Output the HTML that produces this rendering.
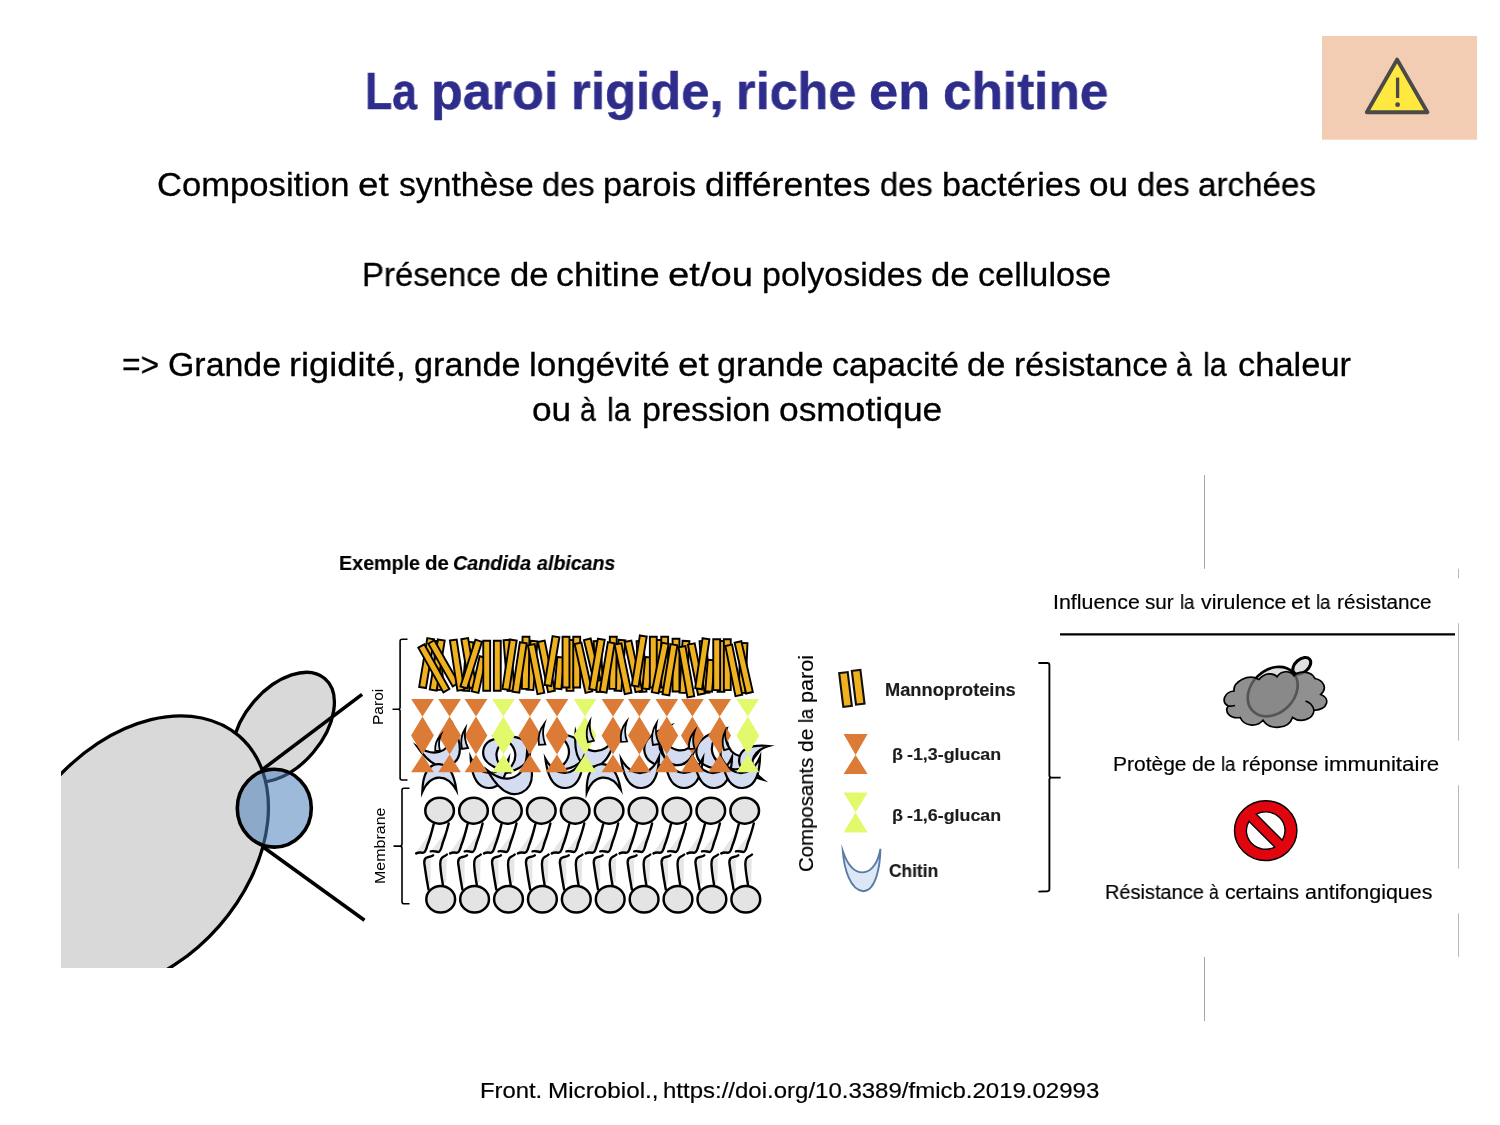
<!DOCTYPE html>
<html lang="fr"><head><meta charset="utf-8"><title>La paroi rigide, riche en chitine</title>
<style>
html,body{margin:0;padding:0;background:#fff}
#slide{position:relative;width:1500px;height:1125px;overflow:hidden;background:#fff;font-family:"Liberation Sans",sans-serif}
.ln{-webkit-text-stroke:0.009em currentColor;position:absolute;white-space:nowrap;line-height:1;margin:0;padding:0;height:1em;font-weight:normal;color:#000;font-family:"Liberation Sans",sans-serif}
.ln span{position:absolute;top:0;transform-origin:0 0;display:block;will-change:transform;-webkit-text-stroke:inherit}
#art{position:absolute;left:0;top:0}
</style></head><body>
<div id="slide">
<h1 class="ln" id="title" style="left:0;top:65.16px;font-size:52.38px;font-weight:bold;color:#2e2d8c;"><span style="left:364.71px;transform:scaleX(0.8500);">La</span> <span style="left:431.33px;transform:scaleX(0.9943);">paroi</span> <span style="left:570.75px;transform:scaleX(0.9712);">rigide,</span> <span style="left:736.29px;transform:scaleX(0.9617);">riche</span> <span style="left:868.99px;transform:scaleX(0.9931);">en</span> <span style="left:942.68px;transform:scaleX(0.9792);">chitine</span></h1>
<p class="ln" id="l1" style="left:0;top:168.19px;font-size:33.68px;"><span style="left:157.08px;transform:scaleX(1.0283);">Composition</span> <span style="left:358.49px;transform:scaleX(1.0936);">et</span> <span style="left:398.71px;transform:scaleX(0.9999);">synthèse</span> <span style="left:541.82px;transform:scaleX(0.9674);">des</span> <span style="left:603.18px;transform:scaleX(1.0156);">parois</span> <span style="left:704.98px;transform:scaleX(1.0564);">différentes</span> <span style="left:880.17px;transform:scaleX(0.9674);">des</span> <span style="left:941.52px;transform:scaleX(1.0169);">bactéries</span> <span style="left:1089.14px;transform:scaleX(1.0447);">ou</span> <span style="left:1137.04px;transform:scaleX(0.9674);">des</span> <span style="left:1198.33px;transform:scaleX(0.9840);">archées</span></p>
<p class="ln" id="l2" style="left:0;top:258.19px;font-size:33.68px;"><span style="left:362.23px;transform:scaleX(0.9767);">Présence</span> <span style="left:509.52px;transform:scaleX(1.0292);">de</span> <span style="left:556.29px;transform:scaleX(1.0644);">chitine</span> <span style="left:668.27px;transform:scaleX(1.1365);">et/ou</span> <span style="left:762.08px;transform:scaleX(1.0092);">polyosides</span> <span style="left:931.38px;transform:scaleX(1.0292);">de</span> <span style="left:978.2px;transform:scaleX(1.0163);">cellulose</span></p>
<p class="ln" id="l3" style="left:0;top:348.29px;font-size:33.68px;"><span style="left:122.01px;transform:scaleX(0.9417);">=&gt;</span> <span style="left:167.6px;transform:scaleX(1.0067);">Grande</span> <span style="left:288.93px;transform:scaleX(1.0752);">rigidité,</span> <span style="left:413.84px;transform:scaleX(1.0165);">grande</span> <span style="left:528.73px;transform:scaleX(1.0450);">longévité</span> <span style="left:677.74px;transform:scaleX(1.0935);">et</span> <span style="left:717.4px;transform:scaleX(1.0165);">grande</span> <span style="left:832.27px;transform:scaleX(1.0119);">capacité</span> <span style="left:967.44px;transform:scaleX(1.0268);">de</span> <span style="left:1014.28px;transform:scaleX(1.0029);">résistance</span> <span style="left:1176.37px;transform:scaleX(0.8500);">à</span> <span style="left:1203.2px;transform:scaleX(0.9048);">la</span> <span style="left:1237.8px;transform:scaleX(1.0236);">chaleur</span></p>
<p class="ln" id="l4" style="left:0;top:393.09px;font-size:33.68px;"><span style="left:532.2px;transform:scaleX(1.0474);">ou</span> <span style="left:580.05px;transform:scaleX(0.8500);">à</span> <span style="left:606.93px;transform:scaleX(0.9072);">la</span> <span style="left:641.75px;transform:scaleX(1.0080);">pression</span> <span style="left:778.84px;transform:scaleX(1.0509);">osmotique</span></p>
<p class="ln" id="ex" style="left:0;top:552.8px;font-size:20.56px;font-weight:bold;"><span style="left:338.55px;transform:scaleX(0.9588);">Exemple</span> <span style="left:424.71px;transform:scaleX(0.9952);">de</span> <span style="left:453.4px;transform:scaleX(0.9615);font-style:italic;">Candida</span> <span style="left:537.02px;transform:scaleX(0.9527);font-style:italic;">albicans</span></p>
<p class="ln" id="inf" style="left:0;top:592.4px;font-size:20.56px;"><span style="left:1052.83px;transform:scaleX(1.0409);">Influence</span> <span style="left:1145.1px;transform:scaleX(1.0056);">sur</span> <span style="left:1179.59px;transform:scaleX(0.9003);">la</span> <span style="left:1200.83px;transform:scaleX(1.0391);">virulence</span> <span style="left:1291.35px;transform:scaleX(1.1055);">et</span> <span style="left:1316.19px;transform:scaleX(0.9003);">la</span> <span style="left:1337.31px;transform:scaleX(1.0088);">résistance</span></p>
<p class="ln" id="pro" style="left:0;top:754px;font-size:20.56px;"><span style="left:1113.37px;transform:scaleX(1.0215);">Protège</span> <span style="left:1192.04px;transform:scaleX(1.0330);">de</span> <span style="left:1221.24px;transform:scaleX(0.9018);">la</span> <span style="left:1242.38px;transform:scaleX(1.0258);">réponse</span> <span style="left:1323.52px;transform:scaleX(1.0850);">immunitaire</span></p>
<p class="ln" id="res" style="left:0;top:882.3px;font-size:20.56px;"><span style="left:1105.04px;transform:scaleX(0.9727);">Résistance</span> <span style="left:1209.15px;transform:scaleX(0.8500);">à</span> <span style="left:1225.19px;transform:scaleX(1.0302);">certains</span> <span style="left:1304.66px;transform:scaleX(1.0420);">antifongiques</span></p>
<p class="ln" id="ref" style="left:0;top:1080.1px;font-size:22.45px;"><span style="left:480.09px;transform:scaleX(1.0611);">Front.</span> <span style="left:547.51px;transform:scaleX(1.0812);">Microbiol.,</span> <span style="left:663.44px;transform:scaleX(1.0695);">https://doi.org/10.3389/fmicb.2019.02993</span></p>
<p class="ln" id="comp" style="left:795.6px;top:871px;transform:rotate(-90deg);transform-origin:0 0;font-size:20.56px;"><span style="left:-0.99px;transform:scaleX(0.9924);">Composants</span> <span style="left:118.71px;transform:scaleX(1.0196);">de</span> <span style="left:147.53px;transform:scaleX(0.8902);">la</span> <span style="left:168.45px;transform:scaleX(1.0496);">paroi</span></p>
<p class="ln" id="paroi" style="left:370.68px;top:724.4px;transform:rotate(-90deg);transform-origin:0 0;font-size:14.55px;-webkit-text-stroke:0;"><span style="left:-1.17px;transform:scaleX(1.0678);">Paroi</span></p>
<p class="ln" id="memb" style="left:372.88px;top:883.3px;transform:rotate(-90deg);transform-origin:0 0;font-size:14.55px;-webkit-text-stroke:0;"><span style="left:-1.21px;transform:scaleX(1.0994);">Membrane</span></p>
<p class="ln" id="man" style="left:0;top:682.05px;font-size:17.78px;font-weight:bold;color:#1c1c1c;"><span style="left:884.87px;transform:scaleX(1.0268);">Mannoproteins</span></p>
<p class="ln" id="g13" style="left:0;top:746.41px;font-size:17.24px;font-weight:bold;color:#1c1c1c;"><span style="left:891.85px;transform:scaleX(1.0443);">β</span> <span style="left:907.46px;transform:scaleX(1.0353);">-1,3-glucan</span></p>
<p class="ln" id="g16" style="left:0;top:806.81px;font-size:17.24px;font-weight:bold;color:#1c1c1c;"><span style="left:891.85px;transform:scaleX(1.0443);">β</span> <span style="left:907.46px;transform:scaleX(1.0353);">-1,6-glucan</span></p>
<p class="ln" id="chi" style="left:0;top:863.25px;font-size:17.78px;font-weight:bold;color:#1c1c1c;"><span style="left:888.72px;transform:scaleX(0.9774);">Chitin</span></p>
<svg id="art" width="1500" height="1125" viewBox="0 0 1500 1125">
<g id="warn">
<rect x="1322" y="36" width="155" height="103.7" fill="#f2cdb3"/>
<path d="M1397.1 59.6 L1427.4 112.3 L1366.8 112.3 Z" fill="#ffe83f" stroke="#4a4a4a" stroke-width="3.9" stroke-linejoin="round"/>
<path d="M1397.6 77.6 V98" stroke="#4a4a4a" stroke-width="3.3" fill="none"/>
<circle cx="1397.6" cy="104.7" r="2.4" fill="#4a4a4a"/>
</g>
<g id="guides" stroke-width="1" fill="none">
<path d="M1204.5 475V568.8M1204.5 956.8V1021.2" stroke="#a8a8a8"/>
<path d="M1458.5 568.8V578.4M1458.5 623.2V740.6M1458.5 785.2V868.6M1458.5 913.4V956.8" stroke="#b8b8b8"/>
</g>
<defs><clipPath id="cellclip"><rect x="61" y="600" width="400" height="368"/></clipPath></defs>
<g id="yeast" clip-path="url(#cellclip)">
<ellipse cx="283.4" cy="727.2" rx="63.8" ry="39.1" transform="rotate(-49.6 283.4 727.2)" fill="#d9d9d9" stroke="#000" stroke-width="3.3"/>
<ellipse cx="136.6" cy="853.8" rx="156.1" ry="109.7" transform="rotate(-48.8 136.6 853.8)" fill="#d9d9d9" stroke="#000" stroke-width="3.3"/>
<path d="M263 769.1L362.1 694.4M262.8 846.7L364.5 920.2" stroke="#000" stroke-width="3.6" fill="none"/>
<ellipse cx="274.3" cy="808.2" rx="37" ry="38.9" fill="#4f81bd" fill-opacity="0.55" stroke="#000" stroke-width="3.6"/>
</g>
<g id="wall">
<path d="M407.5 639.2H402.1Q400.1 639.2 400.1 641.2V707.3Q400.1 709.3 398.1 709.3H392.5H398.1Q400.1 709.3 400.1 711.3V778Q400.1 780 402.1 780H407.5" fill="none" stroke="#000" stroke-width="1.6"/>
<path d="M409.5 788.2H404Q402 788.2 402 790.2V844.1Q402 846.1 400 846.1H393.5H400Q402 846.1 402 848.1V901.8Q402 903.8 404 903.8H409.5" fill="none" stroke="#000" stroke-width="1.6"/>
<g fill="#d3dcf0" stroke="#000" stroke-width="2.2" stroke-linejoin="miter" stroke-miterlimit="10">
<path transform="translate(445 753) rotate(-30) scale(1.1)" vector-effect="non-scaling-stroke" d="M-19 -18C-17 6 -8 12 0 12C8 12 17 6 19 -18C13 -6 6 -3 0 -3C-6 -3 -13 -6 -19 -18Z"/>
<path transform="translate(494 752) rotate(100) scale(0.9)" vector-effect="non-scaling-stroke" d="M-19 -18C-17 6 -8 12 0 12C8 12 17 6 19 -18C13 -6 6 -3 0 -3C-6 -3 -13 -6 -19 -18Z"/>
<path transform="translate(518 752) rotate(-100) scale(1)" vector-effect="non-scaling-stroke" d="M-19 -18C-17 6 -8 12 0 12C8 12 17 6 19 -18C13 -6 6 -3 0 -3C-6 -3 -13 -6 -19 -18Z"/>
<path transform="translate(572 752) rotate(-90) scale(1)" vector-effect="non-scaling-stroke" d="M-19 -18C-17 6 -8 12 0 12C8 12 17 6 19 -18C13 -6 6 -3 0 -3C-6 -3 -13 -6 -19 -18Z"/>
<path transform="translate(592 754) rotate(10) scale(1.05)" vector-effect="non-scaling-stroke" d="M-19 -18C-17 6 -8 12 0 12C8 12 17 6 19 -18C13 -6 6 -3 0 -3C-6 -3 -13 -6 -19 -18Z"/>
<path transform="translate(657 750) rotate(75) scale(1.05)" vector-effect="non-scaling-stroke" d="M-19 -18C-17 6 -8 12 0 12C8 12 17 6 19 -18C13 -6 6 -3 0 -3C-6 -3 -13 -6 -19 -18Z"/>
<path transform="translate(677 753) rotate(10) scale(1)" vector-effect="non-scaling-stroke" d="M-19 -18C-17 6 -8 12 0 12C8 12 17 6 19 -18C13 -6 6 -3 0 -3C-6 -3 -13 -6 -19 -18Z"/>
<path transform="translate(709 752) rotate(80) scale(1.05)" vector-effect="non-scaling-stroke" d="M-19 -18C-17 6 -8 12 0 12C8 12 17 6 19 -18C13 -6 6 -3 0 -3C-6 -3 -13 -6 -19 -18Z"/>
<path transform="translate(734 757) rotate(30) scale(1)" vector-effect="non-scaling-stroke" d="M-19 -18C-17 6 -8 12 0 12C8 12 17 6 19 -18C13 -6 6 -3 0 -3C-6 -3 -13 -6 -19 -18Z"/>
<path transform="translate(750 760) rotate(100) scale(0.9)" vector-effect="non-scaling-stroke" d="M-19 -18C-17 6 -8 12 0 12C8 12 17 6 19 -18C13 -6 6 -3 0 -3C-6 -3 -13 -6 -19 -18Z"/>
<path transform="translate(438.5 775) rotate(177) scale(0.9)" vector-effect="non-scaling-stroke" d="M-19 -18C-17 6 -8 12 0 12C8 12 17 6 19 -18C13 -6 6 -3 0 -3C-6 -3 -13 -6 -19 -18Z"/>
<path transform="translate(489 776) rotate(2) scale(1)" vector-effect="non-scaling-stroke" d="M-19 -18C-17 6 -8 12 0 12C8 12 17 6 19 -18C13 -6 6 -3 0 -3C-6 -3 -13 -6 -19 -18Z"/>
<path transform="translate(516 780) rotate(-25) scale(1.15)" vector-effect="non-scaling-stroke" d="M-19 -18C-17 6 -8 12 0 12C8 12 17 6 19 -18C13 -6 6 -3 0 -3C-6 -3 -13 -6 -19 -18Z"/>
<path transform="translate(565 776) rotate(-2) scale(1)" vector-effect="non-scaling-stroke" d="M-19 -18C-17 6 -8 12 0 12C8 12 17 6 19 -18C13 -6 6 -3 0 -3C-6 -3 -13 -6 -19 -18Z"/>
<path transform="translate(602 775) rotate(174) scale(0.9)" vector-effect="non-scaling-stroke" d="M-19 -18C-17 6 -8 12 0 12C8 12 17 6 19 -18C13 -6 6 -3 0 -3C-6 -3 -13 -6 -19 -18Z"/>
<path transform="translate(641 776) rotate(-3) scale(1)" vector-effect="non-scaling-stroke" d="M-19 -18C-17 6 -8 12 0 12C8 12 17 6 19 -18C13 -6 6 -3 0 -3C-6 -3 -13 -6 -19 -18Z"/>
<path transform="translate(684 776) rotate(0) scale(1)" vector-effect="non-scaling-stroke" d="M-19 -18C-17 6 -8 12 0 12C8 12 17 6 19 -18C13 -6 6 -3 0 -3C-6 -3 -13 -6 -19 -18Z"/>
<path transform="translate(714 776) rotate(-3) scale(1)" vector-effect="non-scaling-stroke" d="M-19 -18C-17 6 -8 12 0 12C8 12 17 6 19 -18C13 -6 6 -3 0 -3C-6 -3 -13 -6 -19 -18Z"/>
<path transform="translate(742 776) rotate(-3) scale(1)" vector-effect="non-scaling-stroke" d="M-19 -18C-17 6 -8 12 0 12C8 12 17 6 19 -18C13 -6 6 -3 0 -3C-6 -3 -13 -6 -19 -18Z"/>
</g>
<path fill="#dc7b35" d="M411.1 698.9H433.9L422.5 716.6ZM422.5 716.6L433.9 735.6L422.5 754.6L411.1 735.6ZM422.5 754.6L433.9 772.3H411.1ZM438.2 698.9H461L449.6 716.6ZM449.6 716.6L461 735.6L449.6 754.6L438.2 735.6ZM449.6 754.6L461 772.3H438.2ZM464.6 698.9H487.4L476 716.6ZM476 716.6L487.4 735.6L476 754.6L464.6 735.6ZM476 754.6L487.4 772.3H464.6ZM518.5 698.9H541.3L529.9 716.6ZM529.9 716.6L541.3 735.6L529.9 754.6L518.5 735.6ZM529.9 754.6L541.3 772.3H518.5ZM545.6 698.9H568.4L557 716.6ZM557 716.6L568.4 735.6L557 754.6L545.6 735.6ZM557 754.6L568.4 772.3H545.6ZM601.6 698.9H624.4L613 716.6ZM613 716.6L624.4 735.6L613 754.6L601.6 735.6ZM613 754.6L624.4 772.3H601.6ZM628 698.9H650.8L639.4 716.6ZM639.4 716.6L650.8 735.6L639.4 754.6L628 735.6ZM639.4 754.6L650.8 772.3H628ZM655.4 698.9H678.2L666.8 716.6ZM666.8 716.6L678.2 735.6L666.8 754.6L655.4 735.6ZM666.8 754.6L678.2 772.3H655.4ZM681 698.9H703.8L692.4 716.6ZM692.4 716.6L703.8 735.6L692.4 754.6L681 735.6ZM692.4 754.6L703.8 772.3H681ZM708.3 698.9H731.1L719.7 716.6ZM719.7 716.6L731.1 735.6L719.7 754.6L708.3 735.6ZM719.7 754.6L731.1 772.3H708.3Z"/>
<path fill="#e3f96c" d="M492 698.9H514.8L503.4 716.6ZM503.4 716.6L514.8 735.6L503.4 754.6L492 735.6ZM503.4 754.6L514.8 772.3H492ZM573.6 698.9H596.4L585 716.6ZM585 716.6L596.4 735.6L585 754.6L573.6 735.6ZM585 754.6L596.4 772.3H573.6ZM736.4 698.9H759.2L747.8 716.6ZM747.8 716.6L759.2 735.6L747.8 754.6L736.4 735.6ZM747.8 754.6L759.2 772.3H736.4Z"/>
<g fill="#d3dcf0" stroke="#000" stroke-width="1.8" stroke-linejoin="miter" stroke-miterlimit="10">
<path transform="translate(463 749) rotate(0) scale(1)" vector-effect="non-scaling-stroke" d="M-1 0C-3 -8 -2 -14 2.5 -21C0.8 -13 2 -7 5 -1Z"/>
<path transform="translate(540 745) rotate(5) scale(1.05)" vector-effect="non-scaling-stroke" d="M-1 0C-3 -8 -2 -14 2.5 -21C0.8 -13 2 -7 5 -1Z"/>
<path transform="translate(589 742) rotate(-4) scale(1)" vector-effect="non-scaling-stroke" d="M-1 0C-3 -8 -2 -14 2.5 -21C0.8 -13 2 -7 5 -1Z"/>
<path transform="translate(622 742) rotate(6) scale(1)" vector-effect="non-scaling-stroke" d="M-1 0C-3 -8 -2 -14 2.5 -21C0.8 -13 2 -7 5 -1Z"/>
<path transform="translate(654 745) rotate(0) scale(1.05)" vector-effect="non-scaling-stroke" d="M-1 0C-3 -8 -2 -14 2.5 -21C0.8 -13 2 -7 5 -1Z"/>
<path transform="translate(690 749) rotate(8) scale(0.9)" vector-effect="non-scaling-stroke" d="M-1 0C-3 -8 -2 -14 2.5 -21C0.8 -13 2 -7 5 -1Z"/>
<path transform="translate(725 750) rotate(-6) scale(0.9)" vector-effect="non-scaling-stroke" d="M-1 0C-3 -8 -2 -14 2.5 -21C0.8 -13 2 -7 5 -1Z"/>
<path transform="translate(436 751) rotate(10) scale(0.8)" vector-effect="non-scaling-stroke" d="M-1 0C-3 -8 -2 -14 2.5 -21C0.8 -13 2 -7 5 -1Z"/>
</g>
<g fill="#f0b11f" stroke="#000" stroke-width="1.9" stroke-linejoin="miter">
<path d="M433.56 641.22L440.44 640.78L443.49 689.58L436.61 690.01Z"/>
<path d="M466.56 641.71L473.44 642.29L469.37 691.08L462.5 690.51Z"/>
<path d="M503.56 640.28L510.44 639.72L514.5 690.52L507.62 691.07Z"/>
<path d="M530.56 640.71L537.44 641.29L533.37 690.08L526.5 689.51Z"/>
<path d="M567.55 639.93L574.45 640.07L573.43 690.87L566.53 690.73Z"/>
<path d="M593.56 641.21L600.44 640.79L603.49 691.59L596.6 692.01Z"/>
<path d="M618.56 639.72L625.44 640.28L621.38 691.07L614.5 690.52Z"/>
<path d="M636.56 641.21L643.44 640.79L646.49 691.59L639.6 692.01Z"/>
<path d="M655.55 640.14L662.45 639.86L664.48 691.66L657.58 691.93Z"/>
<path d="M682.56 640.8L689.44 641.2L686.4 693L679.51 692.6Z"/>
<path d="M699.56 641.2L706.44 640.8L709.49 692.6L702.6 693Z"/>
<path d="M718.55 640.93L725.45 641.07L724.43 691.87L717.53 691.73Z"/>
<path d="M740.55 642.86L747.45 643.14L745.41 692.94L738.52 692.66Z"/>
<path d="M427.3 638.13L434.1 639.27L425.97 688.06L419.17 686.92Z"/>
<path d="M437.89 639.45L444.71 640.55L436.58 690.64L429.77 689.54Z"/>
<path d="M418.29 647.69L424.31 644.31L449.4 689.01L443.38 692.39Z"/>
<path d="M428.3 643.71L434.3 640.29L458.69 682.98L452.7 686.41Z"/>
<path d="M449.89 640.51L456.71 639.49L464.23 689.58L457.41 690.6Z"/>
<path d="M461.3 639.27L468.1 638.13L476.23 686.92L469.43 688.06Z"/>
<path d="M479.63 656.24L486.37 657.76L478.49 692.84L471.76 691.32Z"/>
<path d="M475.41 639.65L481.99 641.75L467.04 688.51L460.47 686.41Z"/>
<path d="M483.25 640.7L490.15 640.7L490.15 690.8L483.25 690.8Z"/>
<path d="M493.85 640.7L500.75 640.7L500.75 690.8L493.85 690.8Z"/>
<path d="M522.55 636.65L529.45 636.75L528.74 688.85L521.84 688.75Z"/>
<path d="M509.89 639.49L516.71 640.51L509.29 690L502.47 688.98Z"/>
<path d="M519.89 642.19L526.71 643.21L519.29 692.6L512.47 691.58Z"/>
<path d="M527.91 645.36L534.69 644.04L544.24 692.82L537.47 694.15Z"/>
<path d="M537.92 641.98L544.68 640.62L554.84 690.8L548.08 692.17Z"/>
<path d="M557.26 657L564.14 657.6L561.37 689.1L554.49 688.49Z"/>
<path d="M552.6 636.13L559.4 637.27L551.27 686.06L544.47 684.92Z"/>
<path d="M562.55 636.7L569.45 636.7L569.45 687.5L562.55 687.5Z"/>
<path d="M573.25 636.7L580.15 636.7L580.15 687.5L573.25 687.5Z"/>
<path d="M574.63 644.05L581.37 642.55L592.24 691.33L585.51 692.83Z"/>
<path d="M583.94 640.1L590.66 638.5L600.54 679.98L593.83 681.58Z"/>
<path d="M597.9 638.71L604.7 639.89L595.96 690.08L589.16 688.9Z"/>
<path d="M609.85 636.66L616.75 636.74L616.14 688.84L609.24 688.76Z"/>
<path d="M607.9 642.14L614.7 643.26L606.57 692.65L599.77 691.53Z"/>
<path d="M614.62 644.69L621.38 643.31L631.54 692.79L624.78 694.18Z"/>
<path d="M624.63 642.03L631.37 640.57L642.24 690.75L635.5 692.21Z"/>
<path d="M645.26 657L652.14 657.6L649.37 689.1L642.49 688.49Z"/>
<path d="M639.89 635.45L646.71 636.55L638.58 686.64L631.77 685.54Z"/>
<path d="M649.85 636.7L656.75 636.7L656.75 687.5L649.85 687.5Z"/>
<path d="M661.25 636.7L668.15 636.7L668.15 687.5L661.25 687.5Z"/>
<path d="M661.92 642.61L668.68 643.99L658.52 693.48L651.76 692.09Z"/>
<path d="M672.55 638.7L679.45 638.7L679.45 691.5L672.55 691.5Z"/>
<path d="M670.59 644.15L677.41 645.25L669.28 695.34L662.47 694.24Z"/>
<path d="M678.6 647.3L685.4 646.1L694.24 696.19L687.44 697.39Z"/>
<path d="M687.92 644.69L694.68 643.31L704.84 693.4L698.08 694.77Z"/>
<path d="M707.86 659.71L714.74 660.29L712.07 691.79L705.19 691.21Z"/>
<path d="M702.59 638.19L709.41 639.21L702 689.3L695.17 688.29Z"/>
<path d="M713.25 639.3L720.15 639.3L720.15 690.1L713.25 690.1Z"/>
<path d="M723.85 639.3L730.75 639.3L730.75 690.1L723.85 690.1Z"/>
<path d="M725.32 645.98L732.08 644.62L742.24 694.8L735.48 696.17Z"/>
<path d="M734.63 642.76L741.37 641.24L752.84 692.02L746.11 693.54Z"/>
</g>
<path d="M431.6 830.7L426.1 851.2L416.6 851.7ZM446.6 830.7L440.6 850.2L431.6 850.2ZM425.2 860.1L430.7 859.1L430.7 883.1L428.2 887.1ZM441.2 860.1L446.7 858.1L446.2 881.1L443.7 884.1ZM465.5 830.7L460 851.2L450.5 851.7ZM480.5 830.7L474.5 850.2L465.5 850.2ZM459.1 860.1L464.6 859.1L464.6 883.1L462.1 887.1ZM475.1 860.1L480.6 858.1L480.1 881.1L477.6 884.1ZM499.4 830.7L493.9 851.2L484.4 851.7ZM514.4 830.7L508.4 850.2L499.4 850.2ZM493 860.1L498.5 859.1L498.5 883.1L496 887.1ZM509 860.1L514.5 858.1L514 881.1L511.5 884.1ZM533.3 830.7L527.8 851.2L518.3 851.7ZM548.3 830.7L542.3 850.2L533.3 850.2ZM526.9 860.1L532.4 859.1L532.4 883.1L529.9 887.1ZM542.9 860.1L548.4 858.1L547.9 881.1L545.4 884.1ZM567.2 830.7L561.7 851.2L552.2 851.7ZM582.2 830.7L576.2 850.2L567.2 850.2ZM560.8 860.1L566.3 859.1L566.3 883.1L563.8 887.1ZM576.8 860.1L582.3 858.1L581.8 881.1L579.3 884.1ZM601.1 830.7L595.6 851.2L586.1 851.7ZM616.1 830.7L610.1 850.2L601.1 850.2ZM594.7 860.1L600.2 859.1L600.2 883.1L597.7 887.1ZM610.7 860.1L616.2 858.1L615.7 881.1L613.2 884.1ZM635 830.7L629.5 851.2L620 851.7ZM650 830.7L644 850.2L635 850.2ZM628.6 860.1L634.1 859.1L634.1 883.1L631.6 887.1ZM644.6 860.1L650.1 858.1L649.6 881.1L647.1 884.1ZM668.9 830.7L663.4 851.2L653.9 851.7ZM683.9 830.7L677.9 850.2L668.9 850.2ZM662.5 860.1L668 859.1L668 883.1L665.5 887.1ZM678.5 860.1L684 858.1L683.5 881.1L681 884.1ZM702.8 830.7L697.3 851.2L687.8 851.7ZM717.8 830.7L711.8 850.2L702.8 850.2ZM696.4 860.1L701.9 859.1L701.9 883.1L699.4 887.1ZM712.4 860.1L717.9 858.1L717.4 881.1L714.9 884.1ZM736.7 830.7L731.2 851.2L721.7 851.7ZM751.7 830.7L745.7 850.2L736.7 850.2ZM730.3 860.1L735.8 859.1L735.8 883.1L733.3 887.1ZM746.3 860.1L751.8 858.1L751.3 881.1L748.8 884.1Z" fill="#e6e6e6"/>
<path d="M433.7 824.1C431.6 832.7 429.6 839.7 427.3 845.5C426.1 849.2 425.6 853 422.6 852.7C419.6 852.2 418.4 852.1 416.2 853.4M448.7 823.5C446.6 831.7 445.1 836.7 443 842C441.4 846.7 441.1 852.2 438.1 852C435.6 851.7 433.6 850.5 430.8 851.3M428.5 889.4C426.9 881.1 425.5 872.1 424.4 864C423.9 860.1 424.2 858.1 427.2 857.3C429.7 856.7 431.7 856.5 433.1 855.3M442.9 884.8C441.7 878.1 440.7 871.1 440.3 865.1C440.1 860.6 440.4 858.1 443.2 856.8C444.9 856 445.9 855.5 446.9 854.5M467.6 824.1C465.5 832.7 463.5 839.7 461.2 845.5C460 849.2 459.5 853 456.5 852.7C453.5 852.2 452.3 852.1 450.1 853.4M482.6 823.5C480.5 831.7 479 836.7 476.9 842C475.3 846.7 475 852.2 472 852C469.5 851.7 467.5 850.5 464.7 851.3M462.4 889.4C460.8 881.1 459.4 872.1 458.3 864C457.8 860.1 458.1 858.1 461.1 857.3C463.6 856.7 465.6 856.5 467 855.3M476.8 884.8C475.6 878.1 474.6 871.1 474.2 865.1C474 860.6 474.3 858.1 477.1 856.8C478.8 856 479.8 855.5 480.8 854.5M501.5 824.1C499.4 832.7 497.4 839.7 495.1 845.5C493.9 849.2 493.4 853 490.4 852.7C487.4 852.2 486.2 852.1 484 853.4M516.5 823.5C514.4 831.7 512.9 836.7 510.8 842C509.2 846.7 508.9 852.2 505.9 852C503.4 851.7 501.4 850.5 498.6 851.3M496.3 889.4C494.7 881.1 493.3 872.1 492.2 864C491.7 860.1 492 858.1 495 857.3C497.5 856.7 499.5 856.5 500.9 855.3M510.7 884.8C509.5 878.1 508.5 871.1 508.1 865.1C507.9 860.6 508.2 858.1 511 856.8C512.7 856 513.7 855.5 514.7 854.5M535.4 824.1C533.3 832.7 531.3 839.7 529 845.5C527.8 849.2 527.3 853 524.3 852.7C521.3 852.2 520.1 852.1 517.9 853.4M550.4 823.5C548.3 831.7 546.8 836.7 544.7 842C543.1 846.7 542.8 852.2 539.8 852C537.3 851.7 535.3 850.5 532.5 851.3M530.2 889.4C528.6 881.1 527.2 872.1 526.1 864C525.6 860.1 525.9 858.1 528.9 857.3C531.4 856.7 533.4 856.5 534.8 855.3M544.6 884.8C543.4 878.1 542.4 871.1 542 865.1C541.8 860.6 542.1 858.1 544.9 856.8C546.6 856 547.6 855.5 548.6 854.5M569.3 824.1C567.2 832.7 565.2 839.7 562.9 845.5C561.7 849.2 561.2 853 558.2 852.7C555.2 852.2 554 852.1 551.8 853.4M584.3 823.5C582.2 831.7 580.7 836.7 578.6 842C577 846.7 576.7 852.2 573.7 852C571.2 851.7 569.2 850.5 566.4 851.3M564.1 889.4C562.5 881.1 561.1 872.1 560 864C559.5 860.1 559.8 858.1 562.8 857.3C565.3 856.7 567.3 856.5 568.7 855.3M578.5 884.8C577.3 878.1 576.3 871.1 575.9 865.1C575.7 860.6 576 858.1 578.8 856.8C580.5 856 581.5 855.5 582.5 854.5M603.2 824.1C601.1 832.7 599.1 839.7 596.8 845.5C595.6 849.2 595.1 853 592.1 852.7C589.1 852.2 587.9 852.1 585.7 853.4M618.2 823.5C616.1 831.7 614.6 836.7 612.5 842C610.9 846.7 610.6 852.2 607.6 852C605.1 851.7 603.1 850.5 600.3 851.3M598 889.4C596.4 881.1 595 872.1 593.9 864C593.4 860.1 593.7 858.1 596.7 857.3C599.2 856.7 601.2 856.5 602.6 855.3M612.4 884.8C611.2 878.1 610.2 871.1 609.8 865.1C609.6 860.6 609.9 858.1 612.7 856.8C614.4 856 615.4 855.5 616.4 854.5M637.1 824.1C635 832.7 633 839.7 630.7 845.5C629.5 849.2 629 853 626 852.7C623 852.2 621.8 852.1 619.6 853.4M652.1 823.5C650 831.7 648.5 836.7 646.4 842C644.8 846.7 644.5 852.2 641.5 852C639 851.7 637 850.5 634.2 851.3M631.9 889.4C630.3 881.1 628.9 872.1 627.8 864C627.3 860.1 627.6 858.1 630.6 857.3C633.1 856.7 635.1 856.5 636.5 855.3M646.3 884.8C645.1 878.1 644.1 871.1 643.7 865.1C643.5 860.6 643.8 858.1 646.6 856.8C648.3 856 649.3 855.5 650.3 854.5M671 824.1C668.9 832.7 666.9 839.7 664.6 845.5C663.4 849.2 662.9 853 659.9 852.7C656.9 852.2 655.7 852.1 653.5 853.4M686 823.5C683.9 831.7 682.4 836.7 680.3 842C678.7 846.7 678.4 852.2 675.4 852C672.9 851.7 670.9 850.5 668.1 851.3M665.8 889.4C664.2 881.1 662.8 872.1 661.7 864C661.2 860.1 661.5 858.1 664.5 857.3C667 856.7 669 856.5 670.4 855.3M680.2 884.8C679 878.1 678 871.1 677.6 865.1C677.4 860.6 677.7 858.1 680.5 856.8C682.2 856 683.2 855.5 684.2 854.5M704.9 824.1C702.8 832.7 700.8 839.7 698.5 845.5C697.3 849.2 696.8 853 693.8 852.7C690.8 852.2 689.6 852.1 687.4 853.4M719.9 823.5C717.8 831.7 716.3 836.7 714.2 842C712.6 846.7 712.3 852.2 709.3 852C706.8 851.7 704.8 850.5 702 851.3M699.7 889.4C698.1 881.1 696.7 872.1 695.6 864C695.1 860.1 695.4 858.1 698.4 857.3C700.9 856.7 702.9 856.5 704.3 855.3M714.1 884.8C712.9 878.1 711.9 871.1 711.5 865.1C711.3 860.6 711.6 858.1 714.4 856.8C716.1 856 717.1 855.5 718.1 854.5M738.8 824.1C736.7 832.7 734.7 839.7 732.4 845.5C731.2 849.2 730.7 853 727.7 852.7C724.7 852.2 723.5 852.1 721.3 853.4M753.8 823.5C751.7 831.7 750.2 836.7 748.1 842C746.5 846.7 746.2 852.2 743.2 852C740.7 851.7 738.7 850.5 735.9 851.3M733.6 889.4C732 881.1 730.6 872.1 729.5 864C729 860.1 729.3 858.1 732.3 857.3C734.8 856.7 736.8 856.5 738.2 855.3M748 884.8C746.8 878.1 745.8 871.1 745.4 865.1C745.2 860.6 745.5 858.1 748.3 856.8C750 856 751 855.5 752 854.5" fill="none" stroke="#000" stroke-width="2.4" stroke-linecap="round" stroke-linejoin="round"/>
<g fill="#e4e4e4" stroke="#000" stroke-width="2.5">
<ellipse cx="439.6" cy="810.7" rx="14.3" ry="13"/><ellipse cx="473.5" cy="810.7" rx="14.3" ry="13"/><ellipse cx="507.4" cy="810.7" rx="14.3" ry="13"/><ellipse cx="541.3" cy="810.7" rx="14.3" ry="13"/><ellipse cx="575.2" cy="810.7" rx="14.3" ry="13"/><ellipse cx="609.1" cy="810.7" rx="14.3" ry="13"/><ellipse cx="643" cy="810.7" rx="14.3" ry="13"/><ellipse cx="676.9" cy="810.7" rx="14.3" ry="13"/><ellipse cx="710.8" cy="810.7" rx="14.3" ry="13"/><ellipse cx="744.7" cy="810.7" rx="14.3" ry="13"/>
<ellipse cx="440.7" cy="899.3" rx="14.4" ry="13.3"/><ellipse cx="474.6" cy="899.3" rx="14.4" ry="13.3"/><ellipse cx="508.5" cy="899.3" rx="14.4" ry="13.3"/><ellipse cx="542.4" cy="899.3" rx="14.4" ry="13.3"/><ellipse cx="576.3" cy="899.3" rx="14.4" ry="13.3"/><ellipse cx="610.2" cy="899.3" rx="14.4" ry="13.3"/><ellipse cx="644.1" cy="899.3" rx="14.4" ry="13.3"/><ellipse cx="678" cy="899.3" rx="14.4" ry="13.3"/><ellipse cx="711.9" cy="899.3" rx="14.4" ry="13.3"/><ellipse cx="745.8" cy="899.3" rx="14.4" ry="13.3"/>
</g>
</g>
<g id="legend">
<g fill="#f0b11f" stroke="#111" stroke-width="2.1"><rect x="841.2" y="672.5" width="8.6" height="34" transform="rotate(-7 845.5 689.5)"/><rect x="853.9" y="670.3" width="8.6" height="34" transform="rotate(-7 858.2 687.3)"/></g>
<path fill="#dc7b35" d="M843.6 734H867.6L855.6 755ZM855.6 755L867.6 774H843.6Z"/>
<path fill="#e3f96c" d="M843.6 792.4H867.6L855.6 812.4ZM855.6 812.4L867.6 832.6H843.6Z"/>
<path fill="#dde8f6" stroke="#5a7ba6" stroke-width="1.9" stroke-linejoin="miter" stroke-miterlimit="10" d="M842.8 851C844 868 850 890.5 863.4 891.2C876 890.5 880.2 866 880.4 848.8C878 862 872 872.4 862.6 872.4C853 872.4 846.5 862 842.8 851Z"/>
<path d="M1038.4 663H1047.4Q1049.4 663 1049.4 665V775.6Q1049.4 777.6 1051.4 777.6H1060.6H1051.4Q1049.4 777.6 1049.4 779.6V889Q1049.4 891 1047.4 891.2L1038.4 891.6" fill="none" stroke="#000" stroke-width="1.9"/>
</g>
<g id="panel">
<path d="M1060 634.3H1455" stroke="#000" stroke-width="2.2" fill="none"/>
<g transform="translate(1200 640) scale(0.1)">
<ellipse cx="1018" cy="258" rx="103" ry="66" transform="rotate(-40 1018 258)" fill="#e0e0e0" stroke="#000" stroke-width="30"/>
<ellipse cx="727" cy="516" rx="278" ry="215" transform="rotate(-44 727 516)" fill="#e0e0e0" stroke="#000" stroke-width="27"/>
<path fill="#6e6e6e" fill-opacity="0.77" stroke="#000" stroke-width="17" stroke-linejoin="miter" d="M590 395C640 330 730 320 770 368C810 305 900 300 940 358C990 300 1110 310 1150 385C1230 400 1280 480 1208 545C1300 580 1290 690 1140 705C1130 650 1100 625 1055 610C1100 625 1130 650 1140 705C1130 800 1000 830 925 775C890 890 700 910 630 802C560 880 440 860 402 775C300 790 240 720 282 660C310 665 330 660 350 655C330 660 310 665 282 660C210 620 240 520 340 510C330 420 480 330 590 395Z"/>
</g>
<g transform="translate(1265.7 830.6)">
<ellipse cx="0" cy="0" rx="31.2" ry="29.9" fill="#e0050f" stroke="#000" stroke-width="1.4"/>
<path d="M-9.36 -16.36A19.3 18.7 0 0 1 16.58 9.58ZM9.09 16.49A19.3 18.7 0 0 1 -16.73 -9.33Z" fill="#fff" stroke="#000" stroke-width="1.4" stroke-linejoin="miter"/>
</g>
</g>
</svg>
</div>
</body></html>
